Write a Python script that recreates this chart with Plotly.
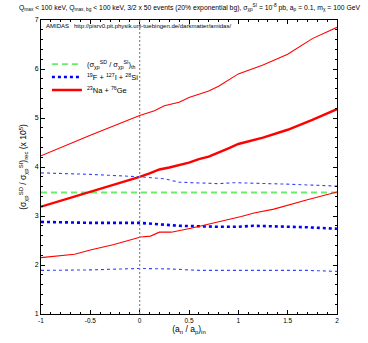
import plotly.graph_objects as go

# Theoretical ratio
x_th = [-1, 2]
y_th = [3.48, 3.48]

# 19F + 127I + 28Si (blue): central, upper, lower
x_b = [-1, -0.5, 0, 0.2, 0.4, 0.8, 1.0, 1.15, 1.35, 1.7, 2.0]
y_b_mid = [2.88, 2.86, 2.86, 2.83, 2.80, 2.78, 2.78, 2.80, 2.79, 2.77, 2.74]
x_b_up = [-1, -0.5, 0, 0.25, 0.4, 0.8, 0.95, 1.2, 1.5, 1.75, 2.0]
y_b_up = [3.88, 3.85, 3.80, 3.76, 3.69, 3.66, 3.68, 3.67, 3.65, 3.63, 3.61]
x_b_lo = [-1, -0.5, 0, 0.3, 0.6, 1.0, 1.4, 1.7, 2.0]
y_b_lo = [1.89, 1.90, 1.93, 1.92, 1.89, 1.89, 1.90, 1.89, 1.87]

# 23Na + 76Ge (red): central, upper, lower
x_r = [-1, -0.75, -0.5, -0.25, 0, 0.1, 0.2, 0.3, 0.5, 0.6, 0.7, 0.9, 1.0, 1.25, 1.5, 1.75, 2.0]
y_r_mid = [3.19, 3.34, 3.49, 3.64, 3.80, 3.87, 3.95, 3.99, 4.09, 4.16, 4.21, 4.38, 4.47, 4.60, 4.76, 4.96, 5.18]
x_r_up = [-1, -0.5, 0, 0.15, 0.25, 0.4, 0.5, 0.6, 0.7, 0.8, 1.0, 1.25, 1.5, 1.75, 2.0]
y_r_up = [4.23, 4.65, 5.05, 5.15, 5.25, 5.32, 5.42, 5.48, 5.55, 5.65, 5.90, 6.08, 6.30, 6.62, 6.85]
x_r_lo = [-1, -0.66, -0.49, -0.26, 0.01, 0.11, 0.2, 0.32, 0.52, 0.76, 1.03, 1.16, 1.36, 1.70, 2.0]
y_r_lo = [2.15, 2.22, 2.31, 2.42, 2.57, 2.59, 2.67, 2.67, 2.75, 2.86, 2.99, 3.06, 3.14, 3.33, 3.49]

labels = ["(σ<sub>χp</sub><sup>SD</sup> / σ<sub>χp</sub><sup>SI</sup>)<sub>th</sub>",
          "<sup>19</sup>F + <sup>127</sup>I + <sup>28</sup>Si",
          "<sup>23</sup>Na + <sup>76</sup>Ge"]

GREEN = "#66ee66"
BLUE = "#0000ff"
RED = "#ff0000"

fig = go.Figure()
fig.add_trace(go.Scatter(x=x_th, y=y_th, mode="lines", name=labels[0], legend="legend",
                         line=dict(color=GREEN, width=1.8, dash="6px,4px")))
fig.add_trace(go.Scatter(x=x_b, y=y_b_mid, mode="lines", name=labels[1], legend="legend2",
                         line=dict(color=BLUE, width=2.6, dash="3px,3px")))
fig.add_trace(go.Scatter(x=x_r, y=y_r_mid, mode="lines", name=labels[2], legend="legend3",
                         line=dict(color=RED, width=2.4)))
fig.add_trace(go.Scatter(x=x_b_up, y=y_b_up, mode="lines", showlegend=False,
                         line=dict(color="#3344ff", width=1.1, dash="3px,3px")))
fig.add_trace(go.Scatter(x=x_b_lo, y=y_b_lo, mode="lines", showlegend=False,
                         line=dict(color="#3344ff", width=1.1, dash="3px,3px")))
fig.add_trace(go.Scatter(x=x_r_up, y=y_r_up, mode="lines", showlegend=False,
                         line=dict(color=RED, width=1.1)))
fig.add_trace(go.Scatter(x=x_r_lo, y=y_r_lo, mode="lines", showlegend=False,
                         line=dict(color=RED, width=1.1)))

fig.add_vline(x=0, line=dict(color="#888888", width=1.2, dash="2px,2px"))

fig.add_annotation(x=0.01, y=0.995, xref="paper", yref="paper", xanchor="left", yanchor="top",
                   text="AMIDAS   http://pisrv0.pit.physik.uni-tuebingen.de/darkmatter/amidas/",
                   showarrow=False, font=dict(size=6, color="#000000"))

leg_common = dict(x=0.02, xanchor="left", yanchor="middle", bgcolor="rgba(0,0,0,0)",
                  font=dict(size=7.5), itemwidth=30)

fig.update_layout(
    width=368, height=343,
    margin=dict(l=41, r=31, t=20, b=29, autoexpand=False),
    paper_bgcolor="white", plot_bgcolor="white",
    font=dict(family="Liberation Sans, Arial, sans-serif", size=7, color="black"),
    title=dict(text="Q<sub>max</sub> < 100 keV, Q<sub>max, bg</sub> < 100 keV, 3/2 x 50 events (20% exponential bg), "
                    "σ<sub>χp</sub><sup>SI</sup> = 10<sup>-8</sup> pb, a<sub>p</sub> = 0.1, m<sub>χ</sub> = 100 GeV",
               x=0.515, xanchor="center", y=0.985, yanchor="top", font=dict(size=6.8)),
    showlegend=True,
    legend=dict(y=0.850, **leg_common),
    legend2=dict(y=0.806, **leg_common),
    legend3=dict(y=0.762, **leg_common),
    xaxis=dict(range=[-1, 2], tickmode="array", tickvals=[-1, -0.5, 0, 0.5, 1, 1.5, 2],
               ticktext=["-1", "-0.5", "0", "0.5", "1", "1.5", "2"], automargin=False,
               ticks="inside", ticklen=4, tickcolor="black", mirror="allticks",
               showline=True, linecolor="black", linewidth=1, showgrid=False, zeroline=False,
               minor=dict(dtick=0.1, ticks="inside", ticklen=2, tickcolor="black"),
               title=dict(text="(a<sub>n</sub> / a<sub>p</sub>)<sub>in</sub>", standoff=2, font=dict(size=8.5)),
               tickfont=dict(size=6.5)),
    yaxis=dict(range=[1, 7], tickmode="array", tickvals=[1, 2, 3, 4, 5, 6, 7], automargin=False,
               ticks="inside", ticklen=4, tickcolor="black", mirror="allticks",
               showline=True, linecolor="black", linewidth=1, showgrid=False, zeroline=False,
               minor=dict(dtick=0.2, ticks="inside", ticklen=2, tickcolor="black"),
               title=dict(text="(σ<sub>χp</sub><sup>SD</sup> / σ<sub>χp</sub><sup>SI</sup>)<sub>rec</sub> (x 10<sup>5</sup>)",
                          standoff=6, font=dict(size=8.5)),
               tickfont=dict(size=7)),
)

fig.write_html("out.html", config={"displayModeBar": False},
               post_script="document.body.style.margin='0';")
